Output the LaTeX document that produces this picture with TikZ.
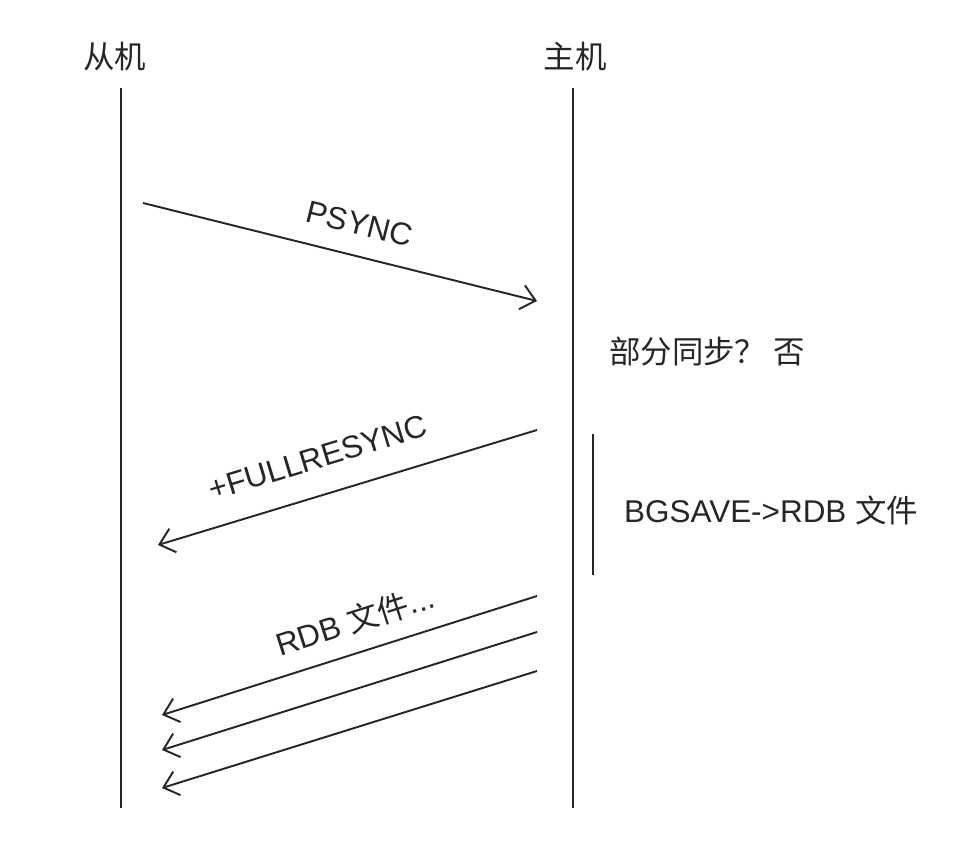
\documentclass[tikz,border=0pt]{standalone}
\usepackage{fontspec}
\setmainfont{Liberation Sans}
\newfontfamily\cjk{Noto Sans CJK SC}
\usetikzlibrary{arrows.meta}

\begin{document}
\begin{tikzpicture}[x=0.02cm, y=-0.02cm, font=\fontsize{17.9}{21}\selectfont,
  lifeline/.style={black!85, line width=1.1pt},
  msg/.style={black!85, line width=1.1pt, -{Straight Barb[length=8pt,width=14pt]}},
  lbl/.style={sloped, text=black!85}]
  \useasboundingbox (0,0) rectangle (958,846);

  % Two lifelines
  \node[text=black!85] (slave) at (115,57) {\cjk 从机};
  \node[text=black!85] (master) at (575,57) {\cjk 主机};
  \coordinate (slaveTop) at (121,88);
  \coordinate (slaveBot) at (121,808);
  \coordinate (masterTop) at (573,88);
  \coordinate (masterBot) at (573,808);
  \draw[lifeline] (slaveTop) -- (slaveBot);
  \draw[lifeline] (masterTop) -- (masterBot);

  % Message end points
  \coordinate (psyncFrom) at (143,203);
  \coordinate (psyncTo) at (537,301);
  \coordinate (fullFrom) at (537,430);
  \coordinate (fullTo) at (158,545);
  \coordinate (rdbFromA) at (537,596);
  \coordinate (rdbToA) at (162,715);
  \coordinate (rdbFromB) at (537,632);
  \coordinate (rdbToB) at (162,750);
  \coordinate (rdbFromC) at (537,671);
  \coordinate (rdbToC) at (162,788);

  % Messages
  \draw[msg] (psyncFrom) -- node[lbl, above=8pt, pos=0.53] (psync) {PSYNC} (psyncTo);
  \draw[msg] (fullFrom) -- node[lbl, above=11pt, pos=0.55] (full) {+FULLRESYNC} (fullTo);
  \draw[msg] (rdbFromA) -- node[lbl, above=6pt, pos=0.46] (rdb) {RDB {\cjk 文件}...} (rdbToA);
  \draw[msg] (rdbFromB) -- (rdbToB);
  \draw[msg] (rdbFromC) -- (rdbToC);

  % Master side notes
  \node[text=black!85] (partial) at (707,352) {\cjk 部分同步？ 否};
  \coordinate (saveTop) at (593,434);
  \coordinate (saveBot) at (593,575);
  \draw[lifeline] (saveTop) -- (saveBot);
  \node[anchor=west, text=black!85] (bgsave) at (618,510) {BGSAVE->RDB {\cjk 文件}};
\end{tikzpicture}
\end{document}
